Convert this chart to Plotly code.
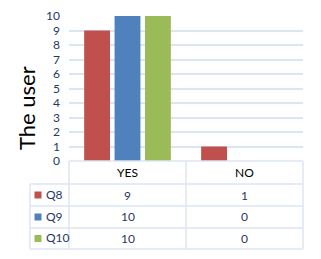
import plotly.graph_objects as go

categories = ["YES", "NO"]
series_names = ["Q8", "Q9", "Q10"]
q8 = [9, 1]
q9 = [10, 0]
q10 = [10, 0]
series_values = [q8, q9, q10]
colors = ["#C0504D", "#4F81BD", "#9BBB59"]
y_ticks = list(range(0, 11))

OFF = 8  # page body margin
W, H = 321 - OFF, 259 - OFF
L, R, T, B = 69 - OFF, 303 - OFF, 16 - OFF, 161 - OFF  # plot area in figure pixels

def px(x):
    return (x - OFF - L) / (R - L)

def py(y):
    return (B - (y - OFF)) / (B - T)

fig = go.Figure()
for name, vals, col in zip(series_names, series_values, colors):
    fig.add_trace(go.Bar(x=categories, y=vals, name=name, marker=dict(color=col, line=dict(width=0)),
                         showlegend=False))

grid_col = "#DCE6F2"
navy = "#1F3864"
shapes = []
annotations = []
row_y = [161, 184, 206, 228, 249]
shapes.append(dict(type="line", xref="paper", yref="paper", x0=px(69), x1=px(303), y0=py(161), y1=py(161), line=dict(color=grid_col, width=1.5)))
for yy in row_y[1:]:
    shapes.append(dict(type="line", xref="paper", yref="paper", x0=px(30), x1=px(303), y0=py(yy), y1=py(yy), line=dict(color=grid_col, width=1.5)))
for xx in [69, 186, 303]:
    shapes.append(dict(type="line", xref="paper", yref="paper", x0=px(xx), x1=px(xx), y0=py(161), y1=py(249), line=dict(color=grid_col, width=1.5)))
shapes.append(dict(type="line", xref="paper", yref="paper", x0=px(30), x1=px(30), y0=py(184), y1=py(249), line=dict(color=grid_col, width=1.5)))

col_centers = [127.5, 244.5]
for cat, cx in zip(categories, col_centers):
    annotations.append(dict(text=cat, xref="paper", yref="paper", x=px(cx), y=py(172), showarrow=False,
                            font=dict(size=12, color="#000000", family="Lato"), xanchor="center", yanchor="middle"))
for i, (name, vals, col) in enumerate(zip(series_names, series_values, colors)):
    ymid = (row_y[i + 1] + row_y[i + 2]) / 2
    shapes.append(dict(type="rect", xref="paper", yref="paper", x0=px(34.5), x1=px(41.5), y0=py(ymid - 3.5), y1=py(ymid + 3.5),
                       fillcolor=col, line=dict(width=0)))
    annotations.append(dict(text=name, xref="paper", yref="paper", x=px(43.5), y=py(ymid - 1), showarrow=False,
                            font=dict(size=12, color=navy, family="Lato"), xanchor="left", yanchor="middle"))
    for v, cx in zip(vals, col_centers):
        annotations.append(dict(text=str(v), xref="paper", yref="paper", x=px(cx), y=py(ymid), showarrow=False,
                                font=dict(size=12, color=navy, family="Lato"), xanchor="center", yanchor="middle"))

annotations.append(dict(text="The user", xref="paper", yref="paper", x=px(27), y=py(108), showarrow=False, textangle=-90,
                        font=dict(size=22, color="#000000", family="Lato"), xanchor="center", yanchor="middle"))

fig.update_layout(
    width=W, height=H,
    margin=dict(l=L, r=W - R, t=T, b=H - B, pad=0, autoexpand=False),
    paper_bgcolor="white", plot_bgcolor="white",
    barmode="group", bargap=0.22, bargroupgap=0.15,
    font=dict(family="Lato"),
    xaxis=dict(showticklabels=False, showgrid=False, zeroline=False, showline=False, ticks="", automargin=False),
    yaxis=dict(range=[0, 10], tickvals=y_ticks, showgrid=True, gridcolor=grid_col, gridwidth=1.5,
               zeroline=False, showline=False, ticks="", ticklabelstandoff=8, automargin=False,
               tickfont=dict(size=12, color=navy, family="Lato")),
    shapes=shapes, annotations=annotations,
)

fig.write_html("out.html")
